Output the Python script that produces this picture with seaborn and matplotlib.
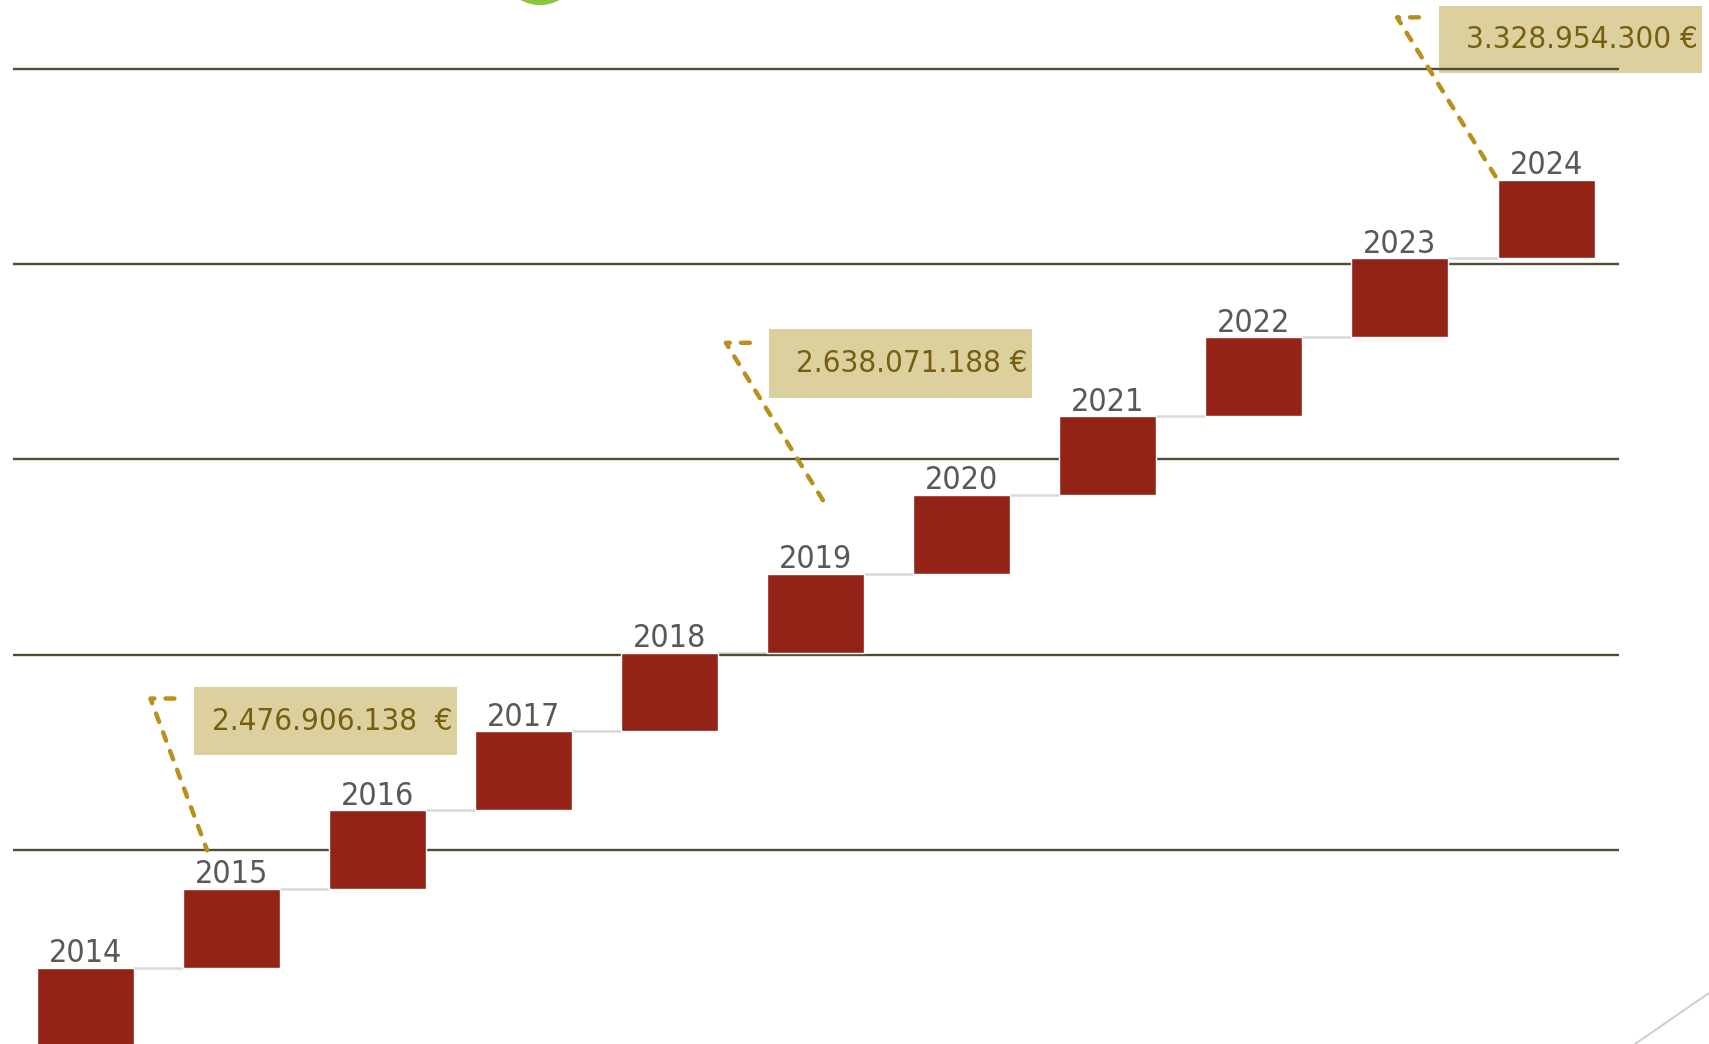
import numpy as np
import pandas as pd
import seaborn as sns
import matplotlib.pyplot as plt
from matplotlib.patches import Rectangle, Ellipse
from matplotlib.lines import Line2D

# %%
jahre = ["2014", "2015", "2016", "2017", "2018", "2019", "2020", "2021", "2022", "2023", "2024"]
stufe_unten = [0, 1, 2, 3, 4, 5, 6, 7, 8, 9, 10]
stufe_hoehe = [1, 1, 1, 1, 1, 1, 1, 1, 1, 1, 1]
gitterlinien = [2.49, 4.97, 7.45, 9.93, 12.41]

betraege = ["2.476.906.138  €", "2.638.071.188 €", "3.328.954.300 €"]

df = pd.DataFrame({"Jahr": jahre, "unten": stufe_unten, "hoehe": stufe_hoehe})
df["oben"] = df["unten"] + df["hoehe"]

# %%
sns.set_theme(style="white")
plt.rcParams["font.family"] = ["DejaVu Sans"]

fig = plt.figure(figsize=(17.09, 10.44), dpi=100)
ax = fig.add_axes([0, 0, 1, 1])

bar_w = 0.664
ax.hlines(gitterlinien, -0.5, 10.5, color="#4f4d36", lw=1.7, zorder=3)

sns.barplot(data=df, x="Jahr", y="hoehe", bottom=df["unten"].values, color="#922316",
            width=bar_w, saturation=1, ax=ax, zorder=4)

# graue Verbinder zwischen den Stufen
for i in range(len(df) - 1):
    ax.plot([i + bar_w / 2, i + 1 - bar_w / 2], [df["oben"][i], df["oben"][i]],
            color="#d9d9d9", lw=1.8, zorder=2)

for i, row in df.iterrows():
    ax.annotate(row["Jahr"], (i, row["oben"]), xytext=(0, 4), textcoords="offset points",
                ha="center", va="baseline", fontsize=23, color="#595959",
                fontstretch="condensed", zorder=6)

# Beschriftungskästen mit gestrichelten Führungslinien
kaesten = [(0.743, 3.70, 1.797, 0.86), (4.68, 8.23, 1.80, 0.88), (9.27, 12.36, 1.80, 0.85)]
fuehrung = [[(0.608, 4.416), (0.444, 4.416), (0.832, 2.49)],
            [(4.548, 8.93), (4.384, 8.93), (5.086, 6.82)],
            [(9.13, 13.06), (8.98, 13.06), (9.668, 11.0)]]
for (x0, y0, w, h), txt, pts in zip(kaesten, betraege, fuehrung):
    ax.add_patch(Rectangle((x0, y0), w, h, facecolor="#ddd09f", edgecolor="none", zorder=1))
    ax.text(x0 + w - 0.03, y0 + h / 2, txt, ha="right", va="center", fontsize=22.5,
            color="#76600f", fontstretch="condensed", zorder=5)
    xs, ys = zip(*pts)
    ax.plot(xs, ys, color="#b8901c", lw=3.2, ls=(0, (2.0, 2.5)),
            dash_capstyle="round", solid_capstyle="round", zorder=5)

ax.set_xlim(-0.586, 11.116)
ax.set_ylim(0.032, 13.28)
ax.axis("off")

# Folien-Dekor
fig.patches.append(Ellipse((540 / 1709, 1 + 34.6 / 1044), 78 / 1709, 78 / 1044,
                           transform=fig.transFigure, color="#8cc63e"))
fig.lines.append(Line2D([1635 / 1709, 1], [0, 51 / 1044], transform=fig.transFigure,
                        color="#d0d0d0", lw=1.5))

plt.savefig("out.png", dpi=100)
